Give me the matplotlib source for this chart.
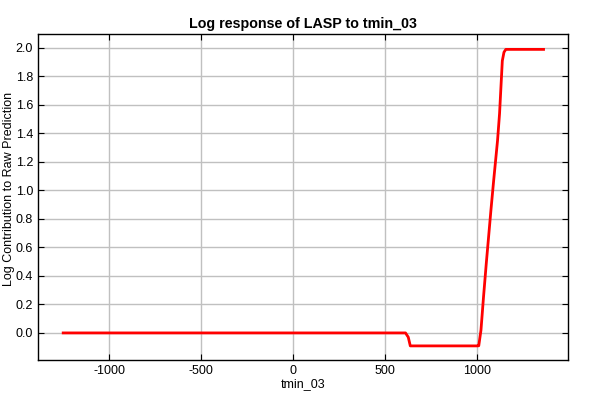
import matplotlib
matplotlib.use('Agg')
import matplotlib.pyplot as plt

plt.rcParams['font.family'] = ['Liberation Sans', 'DejaVu Sans']
plt.rcParams['axes.unicode_minus'] = False

# response curve
tmin = [-1250, 0, 610, 625, 636, 1000, 1008, 1020, 1034, 1049, 1074, 1089,
        1110, 1121, 1136, 1145, 1155, 1360]
resp = [0.0, 0.0, 0.0, -0.03, -0.091, -0.091, -0.09, 0.02, 0.255, 0.49, 0.86,
        1.07, 1.35, 1.54, 1.91, 1.97, 1.99, 1.99]
xticks = [-1000, -500, 0, 500, 1000]
yticks = [0.0, 0.2, 0.4, 0.6, 0.8, 1.0, 1.2, 1.4, 1.6, 1.8, 2.0]

fig = plt.figure(figsize=(6, 4), dpi=100)
ax = fig.add_axes([0.0633, 0.1, 0.8834, 0.815])

ax.plot(tmin, resp, color='red', lw=2)

ax.set_xlim(-1387, 1493)
ax.set_ylim(-0.19, 2.098)
ax.set_xticks(xticks)
ax.set_yticks(yticks)
ax.set_yticklabels(['%.1f' % v for v in yticks])
ax.grid(True, color='#c0c0c0', lw=1)
ax.set_axisbelow(True)
ax.tick_params(direction='in', length=4, labelsize=9, top=True, right=True,
               labelcolor='black')
for s in ax.spines.values():
    s.set_linewidth(1)

ax.set_title('Log response of LASP to tmin_03', fontsize=10.3, fontweight='bold', pad=4)
ax.set_xlabel('tmin_03', fontsize=9, labelpad=1)
ax.set_ylabel('Log Contribution to Raw Prediction', fontsize=9)
ax.yaxis.set_label_coords(-0.043, 0.525)

fig.savefig('out.png', dpi=100)
